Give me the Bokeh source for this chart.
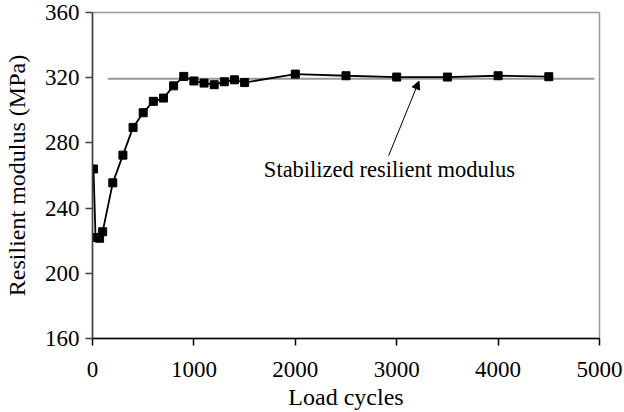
from bokeh.plotting import figure
from bokeh.models import Range1d, FixedTicker, Arrow, NormalHead, Label
from bokeh.embed import file_html
from bokeh.resources import INLINE

cycles = [10, 30, 70, 100, 200, 300, 400, 500, 600, 700, 800, 900, 1000, 1100,
          1200, 1300, 1400, 1500, 2000, 2500, 3000, 3500, 4000, 4500]
modulus = [264, 222, 221.5, 225.5, 255.5, 272.5, 289.5, 298.5, 305.5, 307.5, 315,
           320.8, 318, 316.7, 315.7, 317.5, 318.7, 317, 322.2, 321.2, 320.4, 320.4,
           321.2, 320.6]
stab_x = [150, 4950]
stab_y = [319.4, 319.4]
x_ticks = [0, 1000, 2000, 3000, 4000, 5000]
y_ticks = [160, 200, 240, 280, 320, 360]
annotation = "Stabilized resilient modulus"

FONT = "Liberation Serif"

p = figure(width=624, height=412, output_backend="svg", toolbar_location=None,
           x_range=Range1d(0, 5000), y_range=Range1d(160, 360),
           min_border_left=91, min_border_right=25, min_border_top=12, min_border_bottom=74)
p.background_fill_color = "white"
p.border_fill_color = "white"
p.outline_line_color = "#999999"
p.outline_line_width = 1.5
p.grid.visible = False

for ax, ticks in ((p.xaxis, x_ticks), (p.yaxis, y_ticks)):
    ax.ticker = FixedTicker(ticks=ticks)
    ax.minor_tick_line_color = None
    ax.major_tick_in = 0
    ax.major_tick_out = 7
    ax.major_label_text_font = FONT
    ax.major_label_text_font_size = "23px"
    ax.major_label_text_color = "black"
    ax.axis_label_text_font = FONT
    ax.axis_label_text_font_size = "24px"
    ax.axis_label_text_font_style = "normal"
    ax.axis_label_text_color = "black"
    ax.axis_line_width = 1.5
    ax.major_tick_line_width = 1.5

p.xaxis.axis_line_color = "black"
p.xaxis.major_tick_line_color = "black"
p.yaxis.axis_line_color = "#404040"
p.yaxis.major_tick_line_color = "#404040"
p.xaxis.axis_label = "Load cycles"
p.yaxis.axis_label = "Resilient modulus (MPa)"
p.xaxis.major_label_standoff = 16
p.yaxis.major_label_standoff = 6
p.xaxis.axis_label_standoff = 4
p.yaxis.axis_label_standoff = 12

p.line(stab_x, stab_y, line_color="#999999", line_width=2)
p.line(cycles, modulus, line_color="black", line_width=1.8)
p.scatter(cycles, modulus, marker="square", size=8, fill_color="black", line_color="black")

p.add_layout(Arrow(end=NormalHead(size=8, fill_color="black", line_color="black"),
                   x_start=2921, y_start=272.2, x_end=3220, y_end=317.9,
                   line_color="black", line_width=1))
p.add_layout(Label(x=1690, y=263.5, text=annotation, text_font=FONT,
                   text_font_size="22.5px", text_color="black", text_baseline="alphabetic"))

open("out.html", "w").write(file_html(p, INLINE))
